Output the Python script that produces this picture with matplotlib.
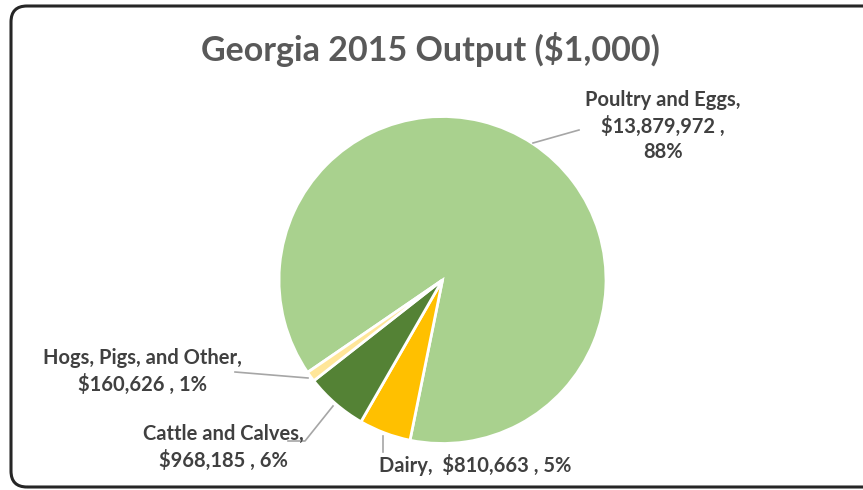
import matplotlib.pyplot as plt
from matplotlib.patches import FancyBboxPatch

categories = ['Poultry and Eggs', 'Dairy', 'Cattle and Calves', 'Hogs, Pigs, and Other']
values = [13879972, 810663, 968185, 160626]
colors = ['#A9D18E', '#FFC000', '#548235', '#FFE699']

W, H = 863, 490
fig = plt.figure(figsize=(W / 100, H / 100), dpi=100)
ax = fig.add_axes([0, 0, 1, 1])

# pie in pixel coordinates (y flipped so that 0 is bottom)
cx, cy, r = 442.5, H - 280, 163.5
ax.pie(values, colors=colors, startangle=-145.6, counterclock=False,
       center=(cx, cy), radius=r,
       wedgeprops=dict(edgecolor='white', linewidth=2))
ax.set_xlim(0, W)
ax.set_ylim(0, H)
ax.set_aspect('equal')
ax.axis('off')

total = sum(values)
pct = [v / total for v in values]
txt = ['%s,\n$%s ,\n%d%%' % (categories[0], format(values[0], ','), round(pct[0] * 100)),
       '%s,  $%s , %d%%' % (categories[1], format(values[1], ','), round(pct[1] * 100)),
       '%s,\n$%s , %d%%' % (categories[2], format(values[2], ','), round(pct[2] * 100)),
       '%s,\n$%s , %d%%' % (categories[3], format(values[3], ','), round(pct[3] * 100))]

label_pos = [(663, 126), (475, 465), (223, 447), (142, 371)]
leaders = [
    [(533, 143), (579, 130)],
    [(383, 436), (383, 452)],
    [(333, 406), (305, 441), (288, 441)],
    [(308, 378), (235, 372)],
]

font = 'Lato'
for t, (x, y), ln in zip(txt, label_pos, leaders):
    ax.text(x, H - y, t, ha='center', va='center', fontsize=14.5, fontweight='bold',
            family=font, color='#404040', linespacing=1.35)
    ax.plot([p[0] for p in ln], [H - p[1] for p in ln], color='#A6A6A6', lw=1.2)

ax.text(430, H - 50, 'Georgia 2015 Output ($1,000)', ha='center', va='center',
        fontsize=24.5, fontweight='bold', family=font, color='#595959')

# chart frame (runs off the right and bottom edges)
ax.add_patch(FancyBboxPatch((11, 3), W + 20, H - 9, boxstyle='round,pad=0,rounding_size=16',
                            fill=False, edgecolor='#262626', lw=2.2))

fig.savefig('out.png', dpi=100)
